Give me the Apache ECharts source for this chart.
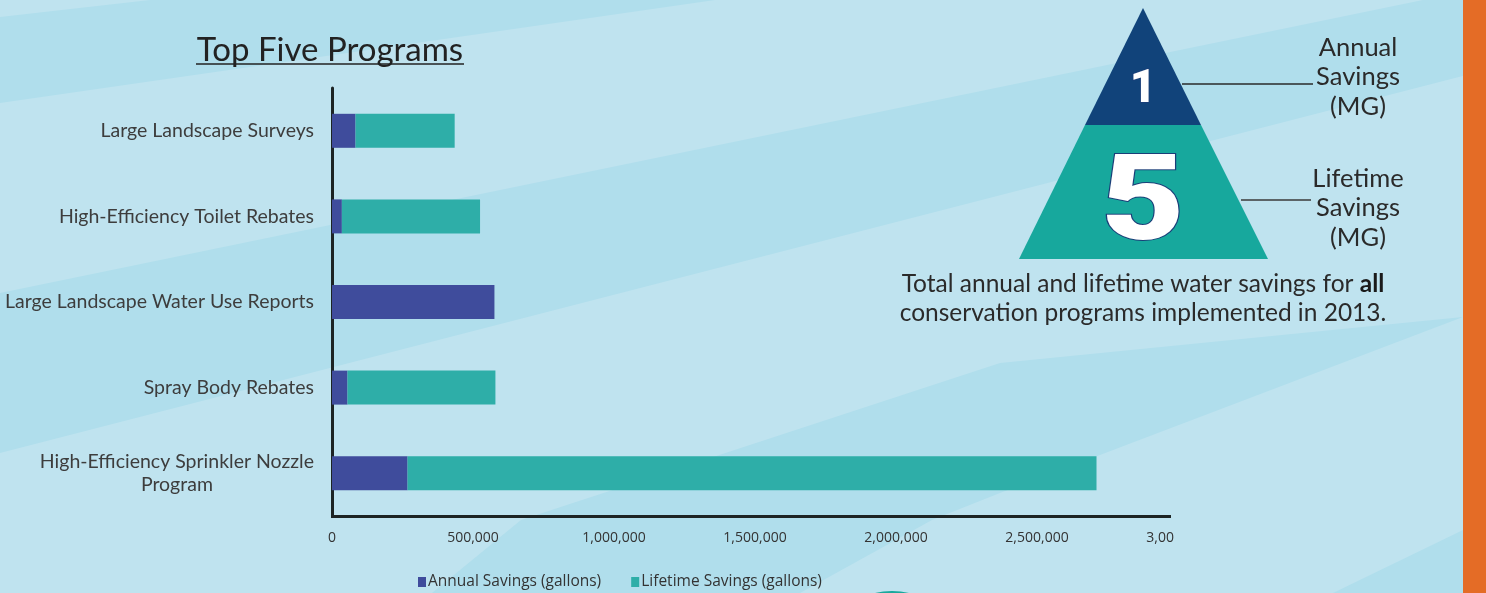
<!DOCTYPE html>
<html>
<head>
<meta charset="utf-8">
<script src="https://cdn.jsdelivr.net/npm/echarts@6.0.0/dist/echarts.min.js"></script>
<style>
html,body{margin:0;padding:0;background:#BFE3EF;}
#chart{width:1486px;height:593px;}
</style>
</head>
<body>
<div id="chart"></div>
<script>
// ---- data ----
var categories = [
  'Large Landscape Surveys',
  'High-Efficiency Toilet Rebates',
  'Large Landscape Water Use Reports',
  'Spray Body Rebates',
  'High-Efficiency Sprinkler Nozzle\nProgram'
];
var annualSavings = [83500, 35000, 576000, 55000, 268000];
var lifetimeSavings = [351500, 490000, 0, 524500, 2443000];
var seriesNames = ['Annual Savings (gallons)', 'Lifetime Savings (gallons)'];
var xTicks = [0, 500000, 1000000, 1500000, 2000000, 2500000, 3000000];
var titleText = 'Top Five Programs';
var pyramidTop = '1';
var pyramidBottom = '5';
var annualLabel = 'Annual\nSavings\n(MG)';
var lifetimeLabel = 'Lifetime\nSavings\n(MG)';

var LABEL_FONT = 'Lato, "Open Sans", sans-serif';
var AXIS_FONT = '"Open Sans", "Liberation Sans", sans-serif';
var BAND = '#B0DEEC';

function fmt(v) {
  if (v === xTicks[xTicks.length - 1]) return '{v|3,00}{h|0,000}';
  return '{v|' + v.toLocaleString('en-US') + '}';
}

var chart = echarts.init(document.getElementById('chart'), null, {renderer: 'canvas'});

var graphics = [
  // background bands
  {type: 'polygon', z: -10, silent: true, shape: {points: [[0,17],[150,0],[715,0],[0,103]]}, style: {fill: BAND}},
  {type: 'polygon', z: -10, silent: true, shape: {points: [[0,293],[1486,-13],[1486,70],[0,453]]}, style: {fill: BAND}},
  {type: 'polygon', z: -10, silent: true, shape: {points: [[432,593],[521,520],[1000,363],[1463,317],[1486,309],[1486,312],[1463,317],[1000,493],[932,520],[800,593]]}, style: {fill: BAND}},
  {type: 'polygon', z: -10, silent: true, shape: {points: [[1333,593],[1463,530],[1486,520],[1486,593]]}, style: {fill: BAND}},
  // bottom teal ellipse peeking
  {type: 'ellipse', z: -5, silent: true, shape: {cx: 892, cy: 640, rx: 60, ry: 49}, style: {fill: '#1AA89C'}},
  // orange side strip
  {type: 'rect', z: 5, silent: true, shape: {x: 1463, y: 0, width: 23, height: 593}, style: {fill: '#E46C26'}},
  // title
  {type: 'text', z: 10, x: 330, y: 50, style: {text: titleText, fill: '#222', fontFamily: LABEL_FONT, fontSize: 33, align: 'center', verticalAlign: 'middle'}},
  {type: 'line', z: 10, shape: {x1: 196, y1: 64, x2: 464, y2: 64}, style: {stroke: '#222', lineWidth: 1.5}},
  // x axis line (plot area clipped at right)
  {type: 'line', z: 10, shape: {x1: 331, y1: 516.5, x2: 1171, y2: 516.5}, style: {stroke: '#1d2424', lineWidth: 3}},
  // pyramid
  {type: 'polygon', z: 10, shape: {points: [[1143,8],[1201,125],[1085,125]]}, style: {fill: '#11437A'}},
  {type: 'polygon', z: 10, shape: {points: [[1085,125],[1201,125],[1268,259],[1019,259]]}, style: {fill: '#17A89D'}},
  {type: 'text', z: 11, x: 1143, y: 90, style: {text: pyramidTop, fill: '#fff', stroke: '#1B3E78', lineWidth: 1.5, fontFamily: 'Roboto, sans-serif', fontWeight: 900, fontSize: 46, align: 'center', verticalAlign: 'middle'}},
  {type: 'text', z: 11, x: 1143, y: 209, scaleX: 1.22, style: {text: pyramidBottom, fill: '#fff', stroke: '#1B3E78', lineWidth: 2, fontFamily: 'Roboto, sans-serif', fontWeight: 900, fontSize: 118, align: 'center', verticalAlign: 'middle'}},
  // connector lines
  {type: 'line', z: 10, shape: {x1: 1182, y1: 84, x2: 1313, y2: 84}, style: {stroke: '#2a2a2a', lineWidth: 1.5}},
  {type: 'line', z: 10, shape: {x1: 1241, y1: 200, x2: 1311, y2: 200}, style: {stroke: '#3a3a3a', lineWidth: 1.5}},
  {type: 'text', z: 10, x: 1358, y: 77, style: {text: annualLabel, fill: '#2a2a2a', fontFamily: LABEL_FONT, fontSize: 25.5, lineHeight: 29.5, align: 'center', verticalAlign: 'middle'}},
  {type: 'text', z: 10, x: 1358, y: 208, style: {text: lifetimeLabel, fill: '#2a2a2a', fontFamily: LABEL_FONT, fontSize: 25.5, lineHeight: 29.5, align: 'center', verticalAlign: 'middle'}},
  // caption
  {type: 'text', z: 10, x: 1143, y: 299, style: {
    text: 'Total annual and lifetime water savings for {b|all}\nconservation programs implemented in 2013.',
    fill: '#2a2a2a', fontFamily: LABEL_FONT, fontSize: 24.5, lineHeight: 29, align: 'center', verticalAlign: 'middle',
    rich: {b: {fontWeight: 'bold', fontFamily: LABEL_FONT, fontSize: 24.5, fill: '#1a1a1a', lineHeight: 29}}
  }}
];

var option = {
  backgroundColor: '#BFE3EF',
  animation: false,
  grid: {left: 332, top: 88, width: 846, height: 428, containLabel: false},
  legend: {
    data: seriesNames,
    left: 413, top: 569,
    icon: 'rect', itemWidth: 8, itemHeight: 10, itemGap: 30,
    textStyle: {fontFamily: AXIS_FONT, fontSize: 15.5, color: '#333', padding: [0,0,0,-3]}
  },
  xAxis: {
    type: 'value', min: xTicks[0], max: xTicks[xTicks.length - 1], interval: xTicks[1] - xTicks[0],
    axisLine: {show: false}, axisTick: {show: false}, splitLine: {show: false},
    axisLabel: {
      margin: 15, formatter: fmt,
      rich: {
        v: {fontFamily: AXIS_FONT, fontSize: 14, color: '#333'},
        h: {fontFamily: AXIS_FONT, fontSize: 14, color: 'rgba(0,0,0,0)'}
      }
    }
  },
  yAxis: {
    type: 'category', data: categories, inverse: true,
    axisLine: {show: true, lineStyle: {color: '#1d2424', width: 3}},
    axisTick: {show: false},
    axisLabel: {
      margin: 18,
      formatter: function (v) {
        return v.split('\n').map(function (s) { return '{c|' + s + '}'; }).join('\n');
      },
      rich: {c: {align: 'center', fontFamily: LABEL_FONT, fontSize: 19.5, color: '#3d3d3d', lineHeight: 23}}
    }
  },
  series: [
    {name: seriesNames[0], type: 'bar', stack: 'total', data: annualSavings, barWidth: 34,
     itemStyle: {color: '#3F4C9C'}},
    {name: seriesNames[1], type: 'bar', stack: 'total', data: lifetimeSavings, barWidth: 34,
     itemStyle: {color: '#2EAEA8'}}
  ],
  color: ['#3F4C9C', '#2EAEA8'],
  graphic: graphics
};
chart.setOption(option);
</script>
</body>
</html>
